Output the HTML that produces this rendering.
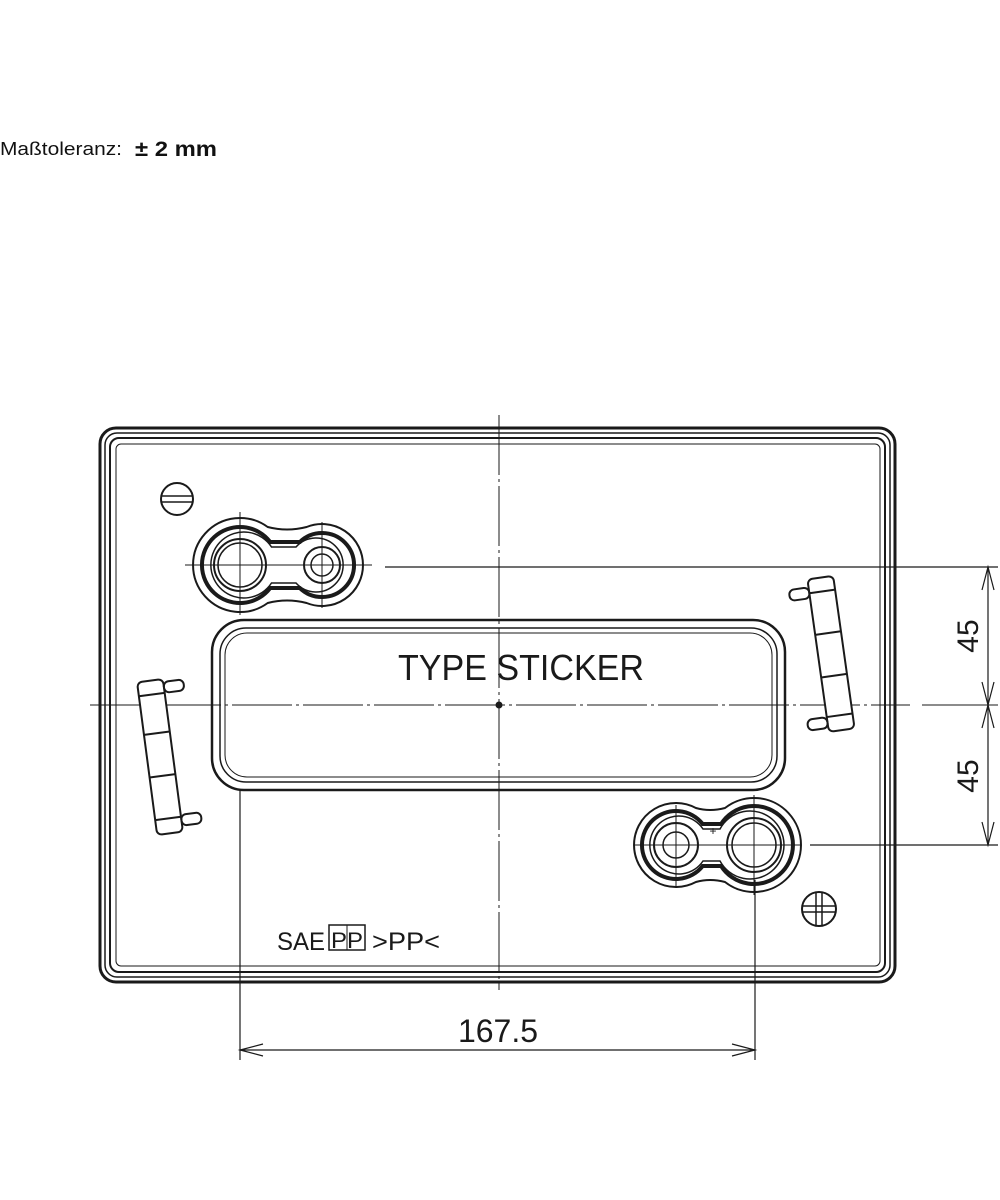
<!DOCTYPE html>
<html><head><meta charset="utf-8"><style>
html,body{margin:0;padding:0;background:#fff;}
svg{display:block;}
</style></head><body>
<svg width="1000" height="1200" viewBox="0 0 1000 1200" xmlns="http://www.w3.org/2000/svg" font-family="Liberation Sans, sans-serif">
<text x="0" y="155" font-size="18" fill="#111" textLength="122" lengthAdjust="spacingAndGlyphs">Maßtoleranz:</text>
<text x="135" y="156" font-size="21" font-weight="bold" fill="#111" textLength="82" lengthAdjust="spacingAndGlyphs">± 2 mm</text>

<g fill="none" stroke="#1a1a1a">
<!-- outer box -->
<rect x="100" y="428" width="795" height="554" rx="16" stroke-width="3"/>
<rect x="105" y="433" width="785" height="544" rx="12" stroke-width="1.5"/>
<rect x="110" y="438" width="775" height="534" rx="9" stroke-width="2"/>
<rect x="116" y="444" width="764" height="522" rx="5" stroke-width="1"/>

<!-- center lines -->
<line x1="499" y1="415" x2="499" y2="990" stroke-width="1" stroke-dasharray="60,4,3,4"/>
<line x1="90" y1="705" x2="910" y2="705" stroke-width="1" stroke-dasharray="60,4,3,4"/>
<line x1="922" y1="705" x2="998" y2="705" stroke-width="1"/>
<circle cx="499" cy="705" r="3" fill="#1a1a1a"/>

<!-- sticker -->
<rect x="212" y="620" width="573" height="170" rx="32" stroke-width="2.5"/>
<rect x="220" y="628" width="557" height="154" rx="26" stroke-width="1.5"/>
<rect x="225" y="633" width="547" height="144" rx="22" stroke-width="1"/>

<!-- top-left terminal -->
<g>
<path d="M267.7,527 Q287,532 306.6,527 A41,41 0 1 1 306.6,603 Q287,598 267.7,603 A47,47 0 1 1 267.7,527 Z" stroke-width="2" fill="#fff"/>
<path d="M270.2,542 L299.8,542 A32,32 0 1 1 299.8,588 L270.2,588 A38,38 0 1 1 270.2,542 Z" stroke-width="4"/>
<path d="M271.5,547 L296,547 A27,27 0 1 1 296,583 L271.5,583 A33,33 0 1 1 271.5,547 Z" stroke-width="1.5"/>
<circle cx="240" cy="565" r="26" stroke-width="2" fill="#fff"/>
<circle cx="240" cy="565" r="22" stroke-width="1.5"/>
<circle cx="322" cy="565" r="18" stroke-width="2" fill="#fff"/>
<circle cx="322" cy="565" r="11" stroke-width="1.5"/>
<line x1="185" y1="565" x2="372" y2="565" stroke-width="1"/>
<line x1="240" y1="512" x2="240" y2="615" stroke-width="1"/>
<line x1="322" y1="522" x2="322" y2="608" stroke-width="1"/>
</g>
<line x1="385" y1="567" x2="998" y2="567" stroke-width="1.2"/>

<!-- bottom-right terminal -->
<g>
<path d="M695.9,808 Q710,812 725,808 A47,47 0 1 1 725,882 Q710,878 695.9,882 A42,42 0 1 1 695.9,808 Z" stroke-width="2" fill="#fff"/>
<path d="M702.7,824 L721.1,824 A39,39 0 1 1 721.1,866 L702.7,866 A34,34 0 1 1 702.7,824 Z" stroke-width="4"/>
<path d="M703,829 L720,829 A34,34 0 1 1 720,861 L703,861 A29,29 0 1 1 703,829 Z" stroke-width="1.5"/>
<circle cx="676" cy="845" r="22" stroke-width="2" fill="#fff"/>
<circle cx="676" cy="845" r="13" stroke-width="1.5"/>
<circle cx="754" cy="845" r="27" stroke-width="2" fill="#fff"/>
<circle cx="754" cy="845" r="22" stroke-width="1.5"/>
<line x1="635" y1="845" x2="800" y2="845" stroke-width="1"/>
<line x1="676" y1="805" x2="676" y2="888" stroke-width="1"/>
<line x1="754" y1="795" x2="754" y2="895" stroke-width="1"/>
<text x="713" y="835" font-size="12" fill="#1a1a1a" stroke="none" text-anchor="middle">+</text>
</g>
<line x1="810" y1="845" x2="998" y2="845" stroke-width="1.2"/>

<!-- polarity symbols -->
<circle cx="177" cy="499" r="16" stroke-width="2"/>
<line x1="162" y1="496" x2="192" y2="496" stroke-width="1.5"/>
<line x1="162" y1="502" x2="192" y2="502" stroke-width="1.5"/>
<circle cx="819" cy="909" r="17" stroke-width="2"/>
<line x1="803" y1="906" x2="835" y2="906" stroke-width="1.5"/>
<line x1="803" y1="912" x2="835" y2="912" stroke-width="1.5"/>
<line x1="816" y1="893" x2="816" y2="925" stroke-width="1.5"/>
<line x1="822" y1="893" x2="822" y2="925" stroke-width="1.5"/>

<!-- left handle -->
<g transform="rotate(-7.5 160 757)" stroke-width="2">
<rect x="147" y="680" width="26" height="154" rx="5" fill="#fff"/>
<line x1="147" y1="694" x2="173" y2="694"/>
<line x1="147" y1="733" x2="173" y2="733"/>
<line x1="147" y1="776" x2="173" y2="776"/>
<line x1="147" y1="819" x2="173" y2="819"/>
<rect x="173" y="683" width="20" height="11" rx="5"/>
<rect x="173" y="817" width="20" height="11" rx="5"/>
</g>
<!-- right handle -->
<g transform="rotate(-8 830 654)" stroke-width="2">
<rect x="818" y="577" width="26" height="154" rx="5" fill="#fff"/>
<line x1="818" y1="591" x2="844" y2="591"/>
<line x1="818" y1="633" x2="844" y2="633"/>
<line x1="818" y1="676" x2="844" y2="676"/>
<line x1="818" y1="716" x2="844" y2="716"/>
<rect x="798" y="585" width="20" height="11" rx="5"/>
<rect x="798" y="716" width="20" height="11" rx="5"/>
</g>

<!-- vertical dimension -->
<line x1="988" y1="567" x2="988" y2="845" stroke-width="1.2"/>
<path d="M982 590 L988 567 L994 590 M982 682 L988 705 L994 682 M982 728 L988 705 L994 728 M982 822 L988 845 L994 822" stroke-width="1.2"/>

<!-- bottom dimension -->
<line x1="240" y1="790" x2="240" y2="1060" stroke-width="1.2"/>
<line x1="755" y1="880" x2="755" y2="1060" stroke-width="1.2"/>
<line x1="240" y1="1050" x2="755" y2="1050" stroke-width="1.2"/>
<path d="M263 1044 L240 1050 L263 1056 M732 1044 L755 1050 L732 1056" stroke-width="1.2"/>
</g>

<g fill="#1a1a1a">
<text x="521" y="680" font-size="36" text-anchor="middle" textLength="246" lengthAdjust="spacingAndGlyphs">TYPE STICKER</text>
<text x="498" y="1042" font-size="32" text-anchor="middle">167.5</text>
<text transform="translate(978 636) rotate(-90)" font-size="30" text-anchor="middle">45</text>
<text transform="translate(978 776) rotate(-90)" font-size="30" text-anchor="middle">45</text>
<text x="277" y="950" font-size="25" textLength="48" lengthAdjust="spacingAndGlyphs">SAE</text>
<text x="331" y="948" font-size="22" textLength="32" lengthAdjust="spacingAndGlyphs">PP</text>
<text x="372" y="950" font-size="25" textLength="68" lengthAdjust="spacingAndGlyphs">&gt;PP&lt;</text>
</g>
<rect x="329" y="925" width="36" height="25" fill="none" stroke="#1a1a1a" stroke-width="1.5"/>
<line x1="347" y1="925" x2="347" y2="950" stroke="#1a1a1a" stroke-width="1"/>
</svg>
</body></html>
